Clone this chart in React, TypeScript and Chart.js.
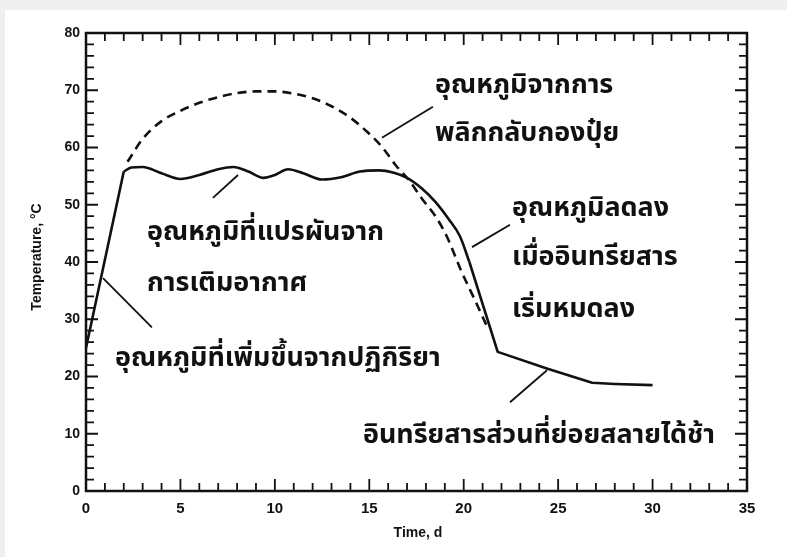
import React, { useEffect, useRef } from 'react';
import { Chart, registerables } from 'chart.js';

Chart.register(...registerables);

// ---- data ----
const solidX = [0, 2.0, 2.4, 3.0, 4.0, 5.0, 6.0, 7.0, 7.8, 8.6, 9.4, 10.0, 10.7, 11.5, 12.5, 13.5, 14.5, 15.5, 16.3, 17.0, 17.8, 18.5, 19.2, 19.8, 20.3, 21.8, 24.4, 26.8, 28.0, 30.0];
const solidY = [25, 55.8, 56.5, 56.6, 55.5, 54.5, 55.2, 56.2, 56.6, 55.8, 54.7, 55.2, 56.2, 55.5, 54.4, 54.8, 55.8, 56.0, 55.6, 54.7, 52.8, 50.5, 47.5, 44.5, 40.0, 24.3, 21.4, 18.9, 18.7, 18.5];
// x values where the solid curve has sharp corners (straight runs outside)
const solidCorners = [2.0, 20.3];

const dashedX = [2.2, 3.0, 4.0, 5.0, 6.0, 7.0, 8.0, 9.0, 10.0, 11.0, 12.0, 13.0, 14.0, 14.9, 15.7, 16.4, 17.1, 17.8, 18.5, 19.1, 19.9, 20.5, 21.2];
const dashedY = [57.5, 61.5, 64.6, 66.4, 67.8, 68.8, 69.5, 69.8, 69.8, 69.4, 68.6, 67.2, 65.2, 62.7, 60.0, 56.9, 54.3, 51.0, 48.0, 44.5, 38.2, 34.0, 29.0];

const xTickLabels = [0, 5, 10, 15, 20, 25, 30, 35];
const yTickLabels = [0, 10, 20, 30, 40, 50, 60, 70, 80];

const xTitle = 'Time, d';
const yTitle = 'Temperature, \u00B0C';

const noteTexts = [
  'อุณหภูมิจากการ',
  'พลิกกลับกองปุ๋ย',
  'อุณหภูมิที่แปรผันจาก',
  'การเติมอากาศ',
  'อุณหภูมิลดลง',
  'เมื่ออินทรียสาร',
  'เริ่มหมดลง',
  'อุณหภูมิที่เพิ่มขึ้นจากปฏิกิริยา',
  'อินทรียสารส่วนที่ย่อยสลายได้ช้า',
];
// anchor (left, vertical middle) of each note, in data units
const noteX = [18.48, 18.48, 3.23, 3.23, 22.56, 22.56, 22.56, 1.54, 14.67];
const noteY = [70.5, 62.0, 44.8, 35.9, 48.9, 40.5, 31.3, 22.7, 9.4];

// leader lines, in data units
const leaderX1 = [15.67, 8.05, 20.44, 0.9, 24.41];
const leaderY1 = [61.7, 55.2, 42.6, 37.2, 21.1];
const leaderX2 = [18.37, 6.72, 22.45, 3.49, 22.45];
const leaderY2 = [67.1, 51.2, 46.5, 28.6, 15.5];

const THAI_FONT = '"Noto Sans Thai", "Noto Serif Thai", "Noto Sans", "DejaVu Sans", sans-serif';
const LATIN_FONT = '"Liberation Sans", Arial, "DejaVu Sans", sans-serif';

const decorPlugin = {
  id: 'decor',
  beforeDraw(chart: any) {
    const ctx = chart.ctx;
    ctx.save();
    ctx.fillStyle = '#efefef';
    ctx.fillRect(0, 0, chart.width, chart.height);
    ctx.fillStyle = '#ffffff';
    ctx.fillRect(5, 10, chart.width - 5, chart.height - 10);
    ctx.restore();
  },
  afterDraw(chart: any) {
    const ctx = chart.ctx;
    const a = chart.chartArea;
    const xs = chart.scales.x;
    const ys = chart.scales.y;
    ctx.save();
    ctx.strokeStyle = '#111';
    ctx.lineCap = 'butt';
    ctx.lineWidth = 2.5;
    ctx.strokeRect(a.left, a.top, a.right - a.left, a.bottom - a.top);
    ctx.lineWidth = 1.8;
    ctx.beginPath();
    ys.ticks.forEach((t: any) => {
      const py = ys.getPixelForValue(t.value);
      const len = Math.round(t.value) % 10 === 0 ? 12 : 8;
      ctx.moveTo(a.left, py);
      ctx.lineTo(a.left + len, py);
      ctx.moveTo(a.right, py);
      ctx.lineTo(a.right - len, py);
    });
    xs.ticks.forEach((t: any) => {
      const px = xs.getPixelForValue(t.value);
      const len = Math.round(t.value) % 5 === 0 ? 12 : 8;
      ctx.moveTo(px, a.bottom);
      ctx.lineTo(px, a.bottom - len);
      ctx.moveTo(px, a.top);
      ctx.lineTo(px, a.top + len);
    });
    ctx.stroke();

    ctx.fillStyle = '#111';
    ctx.font = `bold 14px ${LATIN_FONT}`;
    ctx.textAlign = 'center';
    ctx.textBaseline = 'middle';
    ctx.fillText(xTitle, 418, 533);
    ctx.save();
    ctx.translate(37, 257);
    ctx.rotate(-Math.PI / 2);
    ctx.font = `bold 14px ${LATIN_FONT}`;
    ctx.fillText(yTitle, 0, 0);
    ctx.restore();

    ctx.font = `bold 100px ${THAI_FONT}`;
    const w = ctx.measureText(noteTexts[8]).width;
    const size = Math.max(14, Math.min(40, (100 * 352) / w));
    ctx.font = `bold ${size.toFixed(1)}px ${THAI_FONT}`;
    ctx.textAlign = 'left';
    ctx.textBaseline = 'middle';
    noteTexts.forEach((s, i) => {
      ctx.fillText(s, xs.getPixelForValue(noteX[i]), ys.getPixelForValue(noteY[i]));
    });
    ctx.restore();
  },
};

function solidPiece(from: number, to: number, smooth: boolean) {
  const pts = solidX
    .map((x, i) => ({ x, y: solidY[i] }))
    .filter((p) => p.x >= from && p.x <= to);
  return {
    data: pts,
    borderColor: '#111',
    borderWidth: 2.6,
    pointRadius: 0,
    fill: false,
    borderJoinStyle: 'round',
    tension: smooth ? 0.4 : 0,
    cubicInterpolationMode: smooth ? 'monotone' : 'default',
  };
}

export default function App() {
  const ref = useRef<HTMLCanvasElement>(null);

  useEffect(() => {
    if (!ref.current) return;
    const leaderSets = leaderX1.map((_, i) => ({
      data: [
        { x: leaderX1[i], y: leaderY1[i] },
        { x: leaderX2[i], y: leaderY2[i] },
      ],
      borderColor: '#111',
      borderWidth: 1.8,
      pointRadius: 0,
      fill: false,
      tension: 0,
    }));
    const lastX = solidX[solidX.length - 1];
    const chart = new Chart(ref.current, {
      type: 'line',
      data: {
        datasets: [
          solidPiece(solidX[0], solidCorners[0], false),
          solidPiece(solidCorners[0], solidCorners[1], true),
          solidPiece(solidCorners[1], lastX, false),
          {
            data: dashedX.map((x, i) => ({ x, y: dashedY[i] })),
            borderColor: '#111',
            borderWidth: 2.6,
            borderDash: [9, 6],
            pointRadius: 0,
            fill: false,
            cubicInterpolationMode: 'monotone',
          },
          ...leaderSets,
        ] as any,
      },
      options: {
        responsive: false,
        animation: false,
        events: [],
        layout: { padding: { left: 0, top: 33, right: 40, bottom: 0 } },
        plugins: { legend: { display: false }, tooltip: { enabled: false } },
        scales: {
          x: {
            type: 'linear',
            min: 0,
            max: 35,
            afterFit: (s: any) => {
              s.height = 66;
            },
            grid: { display: false, drawTicks: false },
            border: { display: false },
            ticks: {
              stepSize: 1,
              autoSkip: false,
              maxRotation: 0,
              padding: 9,
              color: '#111',
              font: { family: LATIN_FONT, size: 15, weight: 'bold' },
              callback: (v: any) => (xTickLabels.includes(Number(v)) ? String(v) : ''),
            },
          },
          y: {
            type: 'linear',
            min: 0,
            max: 80,
            afterFit: (s: any) => {
              s.width = 86;
            },
            grid: { display: false, drawTicks: false },
            border: { display: false },
            ticks: {
              stepSize: 2,
              autoSkip: false,
              padding: 6,
              color: '#111',
              font: { family: LATIN_FONT, size: 14, weight: 'bold' },
              callback: (v: any) => (yTickLabels.includes(Number(v)) ? String(v) : ''),
            },
          },
        },
      } as any,
      plugins: [decorPlugin],
    });
    return () => chart.destroy();
  }, []);

  return (
    <div style={{ position: 'fixed', left: 0, top: 0, width: 787, height: 557 }}>
      <canvas ref={ref} width={787} height={557} style={{ display: 'block', width: 787, height: 557 }} />
    </div>
  );
}
